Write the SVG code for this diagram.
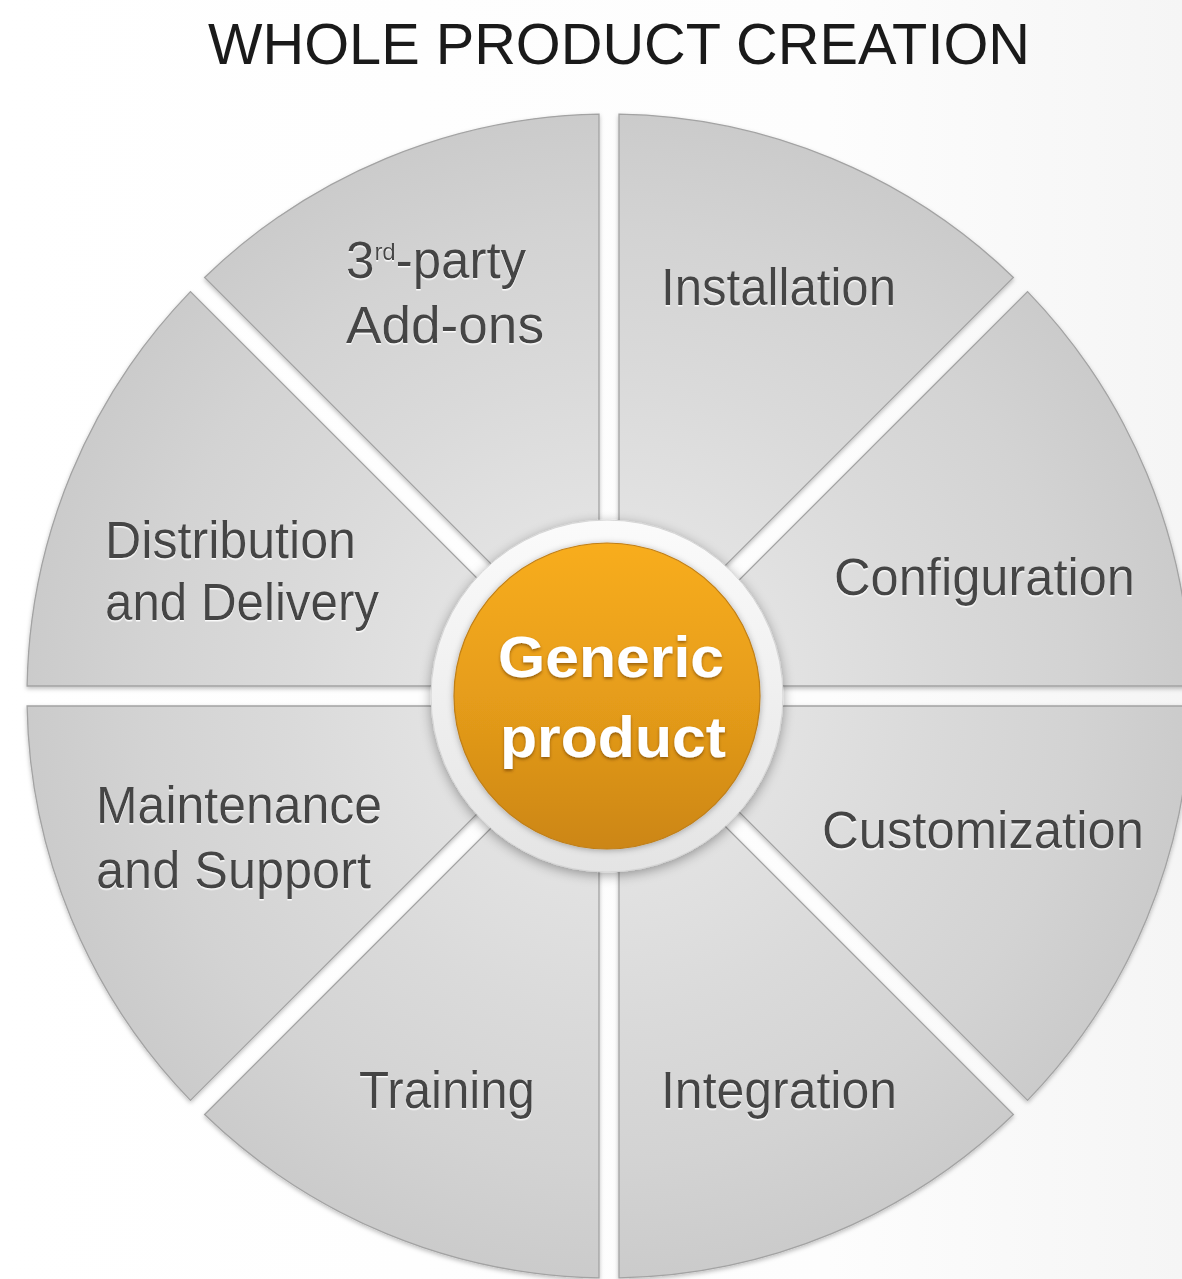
<svg xmlns="http://www.w3.org/2000/svg" width="1182" height="1279" viewBox="0 0 1182 1279">
  <defs>
    <linearGradient id="bg" x1="0" y1="0" x2="1" y2="0">
      <stop offset="0" stop-color="#ffffff"/>
      <stop offset="0.7" stop-color="#fdfdfd"/>
      <stop offset="1" stop-color="#f5f5f5"/>
    </linearGradient>
    <radialGradient id="segFill" gradientUnits="userSpaceOnUse" cx="609" cy="696" r="582">
      <stop offset="0.25" stop-color="#e4e4e4"/>
      <stop offset="0.55" stop-color="#dadada"/>
      <stop offset="0.8" stop-color="#d3d3d3"/>
      <stop offset="1" stop-color="#cbcbcb"/>
    </radialGradient>
    <linearGradient id="ringFill" x1="0" y1="0" x2="0" y2="1">
      <stop offset="0" stop-color="#fbfbfb"/>
      <stop offset="1" stop-color="#e4e4e4"/>
    </linearGradient>
    <linearGradient id="orangeFill" x1="0" y1="0" x2="0" y2="1">
      <stop offset="0" stop-color="#f8ad1f"/>
      <stop offset="0.5" stop-color="#e69d1a"/>
      <stop offset="1" stop-color="#cc8616"/>
    </linearGradient>
    <filter id="segShadow" x="-10%" y="-10%" width="120%" height="120%">
      <feDropShadow dx="0" dy="2" stdDeviation="2" flood-color="#000" flood-opacity="0.25"/>
    </filter>
    <filter id="ringShadow" x="-20%" y="-20%" width="140%" height="140%">
      <feDropShadow dx="0" dy="3" stdDeviation="6" flood-color="#000" flood-opacity="0.35"/>
    </filter>
    <filter id="innerShade" x="-20%" y="-20%" width="140%" height="140%">
      <feDropShadow dx="0" dy="1" stdDeviation="3" flood-color="#000" flood-opacity="0.3"/>
    </filter>
    <filter id="engrave" x="-5%" y="-20%" width="110%" height="140%">
      <feDropShadow dx="0" dy="1.5" stdDeviation="0.6" flood-color="#ffffff" flood-opacity="0.9"/>
    </filter>
    <filter id="whiteText" x="-5%" y="-20%" width="110%" height="150%">
      <feDropShadow dx="0" dy="2" stdDeviation="1.8" flood-color="#5a3300" flood-opacity="0.55"/>
    </filter>
  </defs>
  <style>
    .seg { fill: url(#segFill); stroke: #a3a3a3; stroke-width: 1.3; }
    .lbl { font-family: "Liberation Sans", Arial, sans-serif; font-size: 51px; fill: #454545; filter: url(#engrave); }
    .title { font-family: "Liberation Sans", Arial, sans-serif; font-size: 58px; fill: #1a1a1a; }
    .ctr { font-family: "Liberation Sans", Arial, sans-serif; font-weight: bold; font-size: 57px; fill: #ffffff; text-anchor: middle; filter: url(#whiteText); }
  </style>

  <rect x="0" y="0" width="1182" height="1279" fill="url(#bg)"/>

  <text class="title" x="208" y="64" textLength="822" lengthAdjust="spacingAndGlyphs">WHOLE PRODUCT CREATION</text>

  <g id="segments" filter="url(#segShadow)">
    <g id="seg-configuration">
      <path class="seg" d="M633.14,686 L1190.91,686 A582,582 0 0 0 1027.55,291.60 Z"/>
      <text class="lbl" x="834" y="595" textLength="301" lengthAdjust="spacingAndGlyphs">Configuration</text>
    </g>
    <g id="seg-installation">
      <path class="seg" d="M619,671.86 L1013.40,277.45 A582,582 0 0 0 619,114.09 Z"/>
      <text class="lbl" x="661" y="305" textLength="235" lengthAdjust="spacingAndGlyphs">Installation</text>
    </g>
    <g id="seg-addons">
      <path class="seg" d="M599,671.86 L599,114.09 A582,582 0 0 0 204.60,277.45 Z"/>
      <text class="lbl" x="346" y="278">3<tspan font-size="24" dy="-18">rd</tspan><tspan dy="18">-party</tspan></text>
      <text class="lbl" x="346" y="343" textLength="198" lengthAdjust="spacingAndGlyphs">Add-ons</text>
    </g>
    <g id="seg-distribution">
      <path class="seg" d="M584.86,686 L190.45,291.60 A582,582 0 0 0 27.09,686 Z"/>
      <text class="lbl" x="105" y="558" textLength="251" lengthAdjust="spacingAndGlyphs">Distribution</text>
      <text class="lbl" x="105" y="620" textLength="274" lengthAdjust="spacingAndGlyphs">and Delivery</text>
    </g>
    <g id="seg-maintenance">
      <path class="seg" d="M584.86,706 L27.09,706 A582,582 0 0 0 190.45,1100.40 Z"/>
      <text class="lbl" x="96" y="823" textLength="286" lengthAdjust="spacingAndGlyphs">Maintenance</text>
      <text class="lbl" x="96" y="888" textLength="275" lengthAdjust="spacingAndGlyphs">and Support</text>
    </g>
    <g id="seg-training">
      <path class="seg" d="M599,720.14 L204.60,1114.55 A582,582 0 0 0 599,1277.91 Z"/>
      <text class="lbl" x="359" y="1108" textLength="176" lengthAdjust="spacingAndGlyphs">Training</text>
    </g>
    <g id="seg-integration">
      <path class="seg" d="M619,720.14 L619,1277.91 A582,582 0 0 0 1013.40,1114.55 Z"/>
      <text class="lbl" x="661" y="1108" textLength="236" lengthAdjust="spacingAndGlyphs">Integration</text>
    </g>
    <g id="seg-customization">
      <path class="seg" d="M633.14,706 L1027.55,1100.40 A582,582 0 0 0 1190.91,706 Z"/>
      <text class="lbl" x="822" y="848" textLength="322" lengthAdjust="spacingAndGlyphs">Customization</text>
    </g>
  </g>

  <g id="connectors"></g>

  <g id="generic-product">
    <circle cx="607" cy="696" r="176" fill="url(#ringFill)" stroke="#d6d6d6" stroke-width="1" filter="url(#ringShadow)"/>
    <circle cx="607" cy="696" r="153" fill="url(#orangeFill)" stroke="#c07f17" stroke-width="1.2" filter="url(#innerShade)"/>
    <text class="ctr" x="611" y="677" textLength="226" lengthAdjust="spacingAndGlyphs">Generic</text>
    <text class="ctr" x="613" y="757" textLength="226" lengthAdjust="spacingAndGlyphs">product</text>
  </g>
</svg>
